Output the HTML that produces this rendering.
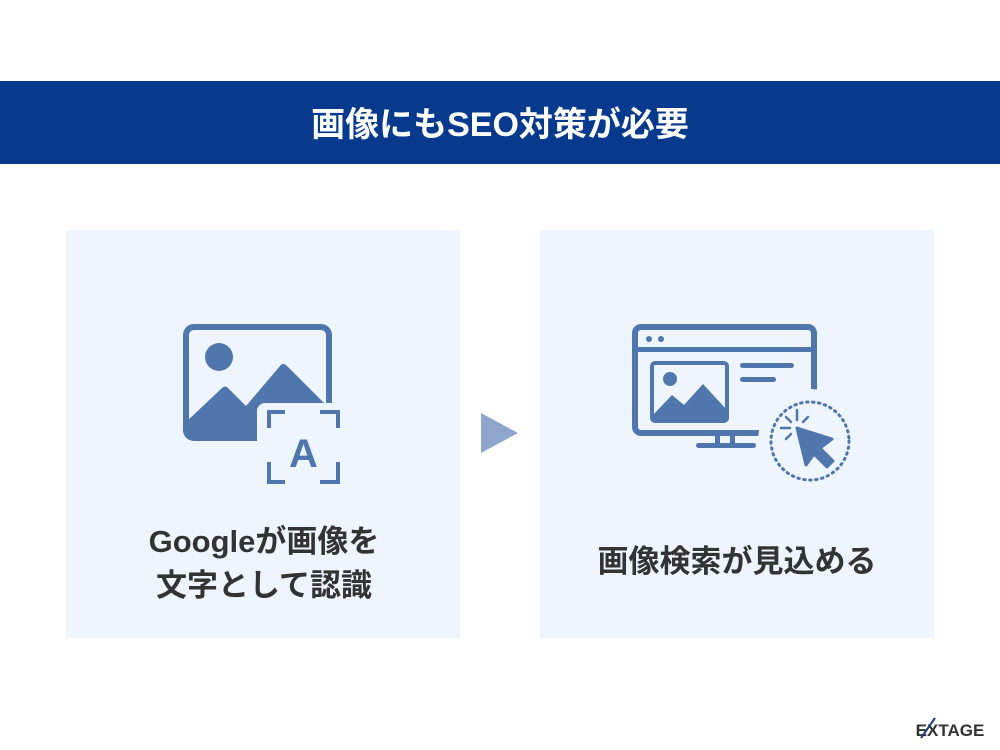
<!DOCTYPE html>
<html><head><meta charset="utf-8"><style>
body{margin:0;width:1000px;height:750px;background:#fff;overflow:hidden;font-family:"Liberation Sans","Noto Sans CJK JP",sans-serif;}
</style></head><body>
<svg width="1000" height="750" xmlns="http://www.w3.org/2000/svg" style="position:absolute;left:0;top:0">
<rect x="0" y="81" width="1000" height="83" fill="#073a8c"/>
<text x="500" y="136" text-anchor="middle" fill="#fff" font-size="34" font-weight="bold" font-family="Liberation Sans, Noto Sans CJK JP, sans-serif">画像にもSEO対策が必要</text>
<rect x="66" y="230" width="394" height="408" fill="#eef5fe"/>
<rect x="540" y="230" width="394" height="408" fill="#eef5fe"/>
<polygon points="481,413 518,433 481,453" fill="#8fa6cc"/>
<g fill="#5077ad" stroke="none">
<rect x="186" y="327" width="143" height="111" rx="8" fill="none" stroke="#5077ad" stroke-width="6"/>
<circle cx="219" cy="357" r="14"/>
<path d="M186,422 L222,388 Q225,385 228,388 L246,406 L280,366 Q283,362 287,366 L326,405 L326,438 L186,438 Z"/>
<rect x="257" y="403" width="92" height="92" rx="8" fill="#eef5fe"/>
<g fill="none" stroke="#5077ad" stroke-width="4">
<path d="M269,428 V412 H285"/><path d="M320,412 H338 V428"/>
<path d="M269,462 V482 H285"/><path d="M320,482 H338 V462"/>
</g>
<text x="303.5" y="467" text-anchor="middle" font-size="40" font-weight="bold" fill="#5077ad" font-family="Liberation Sans, sans-serif">A</text>
</g>
<g fill="#5077ad">
<rect x="635" y="327" width="179" height="106" rx="6" fill="none" stroke="#5077ad" stroke-width="6"/>
<rect x="635" y="347" width="179" height="5"/>
<circle cx="649" cy="339" r="3"/><circle cx="661" cy="339" r="3"/>
<rect x="652" y="363" width="75" height="58" rx="3" fill="none" stroke="#5077ad" stroke-width="4"/>
<circle cx="670" cy="379" r="7"/>
<path d="M652,416 L672,395 L684,405 L703,384 L727,410 L727,421 L652,421 Z"/>
<rect x="740" y="363" width="54" height="5" rx="2.5"/>
<rect x="740" y="377" width="36" height="5" rx="2.5"/>
<rect x="715" y="433" width="5" height="13"/><rect x="730" y="433" width="5" height="13"/>
<rect x="696" y="443" width="60" height="5" rx="2.5"/>
<circle cx="810" cy="441" r="52" fill="#eef5fe"/>
<circle cx="810" cy="441" r="39" fill="none" stroke="#5077ad" stroke-width="3" stroke-dasharray="1.5 4.5" stroke-linecap="round"/>
<path d="M797,428 L832,439 L820,448 L833,461 L827,467 L814,454 L806,465 Z" stroke="#5077ad" stroke-width="3" stroke-linejoin="round"/>
<g stroke="#5077ad" stroke-width="2.5" stroke-linecap="round">
<line x1="797" y1="410" x2="797" y2="420"/><line x1="781" y1="428" x2="790" y2="428"/>
<line x1="786" y1="417" x2="791" y2="422"/><line x1="808" y1="417" x2="803" y2="422"/>
<line x1="786" y1="439" x2="791" y2="434"/>
</g>
</g>
<g font-size="31" font-weight="bold" fill="#333" text-anchor="middle" font-family="Liberation Sans, Noto Sans CJK JP, sans-serif">
<text x="264" y="552">Googleが画像を</text>
<text x="264" y="596">文字として認識</text>
<text x="737" y="572">画像検索が見込める</text>
</g>
<text x="950" y="736" text-anchor="middle" font-size="17" font-weight="bold" fill="#333" font-family="Liberation Sans, sans-serif">EXTAGE</text>
<line x1="921" y1="738" x2="935" y2="718" stroke="#1e3c78" stroke-width="2"/>
</svg>
</body></html>
